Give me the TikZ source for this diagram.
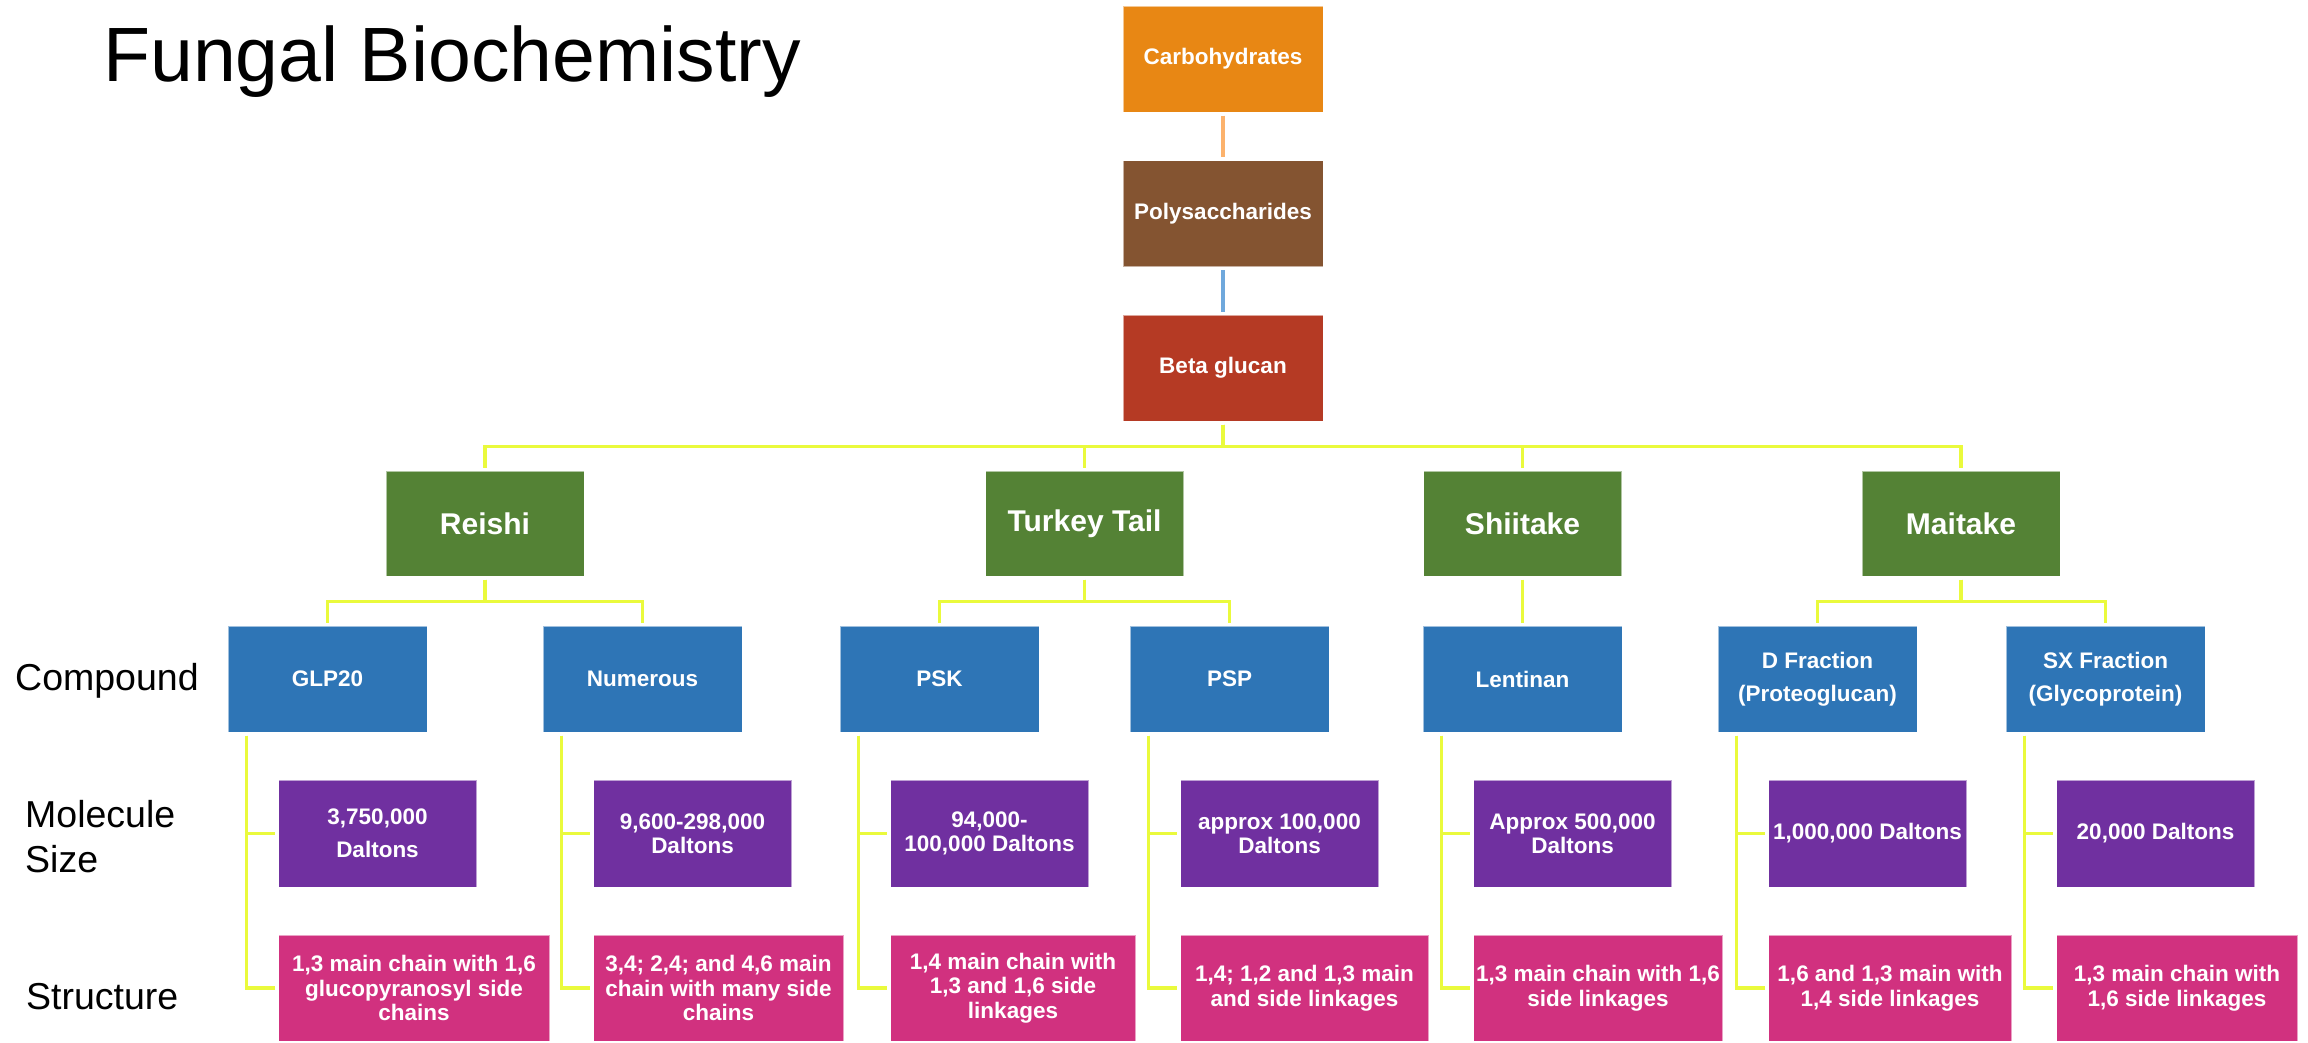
\documentclass[tikz,border=0pt]{standalone}
\usepackage{fontspec}
\setmainfont{Liberation Sans}

\definecolor{cOrange}{RGB}{232,135,20}
\definecolor{cBrown}{RGB}{132,84,49}
\definecolor{cRed}{RGB}{181,58,36}
\definecolor{cGreen}{RGB}{84,130,53}
\definecolor{cBlue}{RGB}{46,117,182}
\definecolor{cPurple}{RGB}{112,48,160}
\definecolor{cPink}{RGB}{209,49,127}
\definecolor{cYellow}{RGB}{234,250,60}
\definecolor{cLineOrange}{RGB}{252,178,108}
\definecolor{cLineBlue}{RGB}{111,168,220}

\begin{document}
\begin{tikzpicture}[x=1pt,y=-1pt,
  box/.style={draw=white, draw opacity=0.55, line width=1pt, inner sep=0pt,
    text=white, align=center, font=\bfseries\fontsize{22.5}{24.5}\selectfont},
  topbox/.style={box, minimum width=200pt, minimum height=106pt},
  grn/.style={box, fill=cGreen, minimum width=198pt, minimum height=105pt,
    font=\bfseries\fontsize{30}{33}\selectfont},
  cmp/.style={box, fill=cBlue, minimum width=199pt, minimum height=106pt,
    font=\bfseries\fontsize{22.5}{33}\selectfont},
  msz/.style={box, fill=cPurple, minimum width=198pt, minimum height=107pt, anchor=west},
  stc/.style={box, fill=cPink, minimum height=106pt, anchor=west},
  conn/.style={line width=3.2pt, shorten <=3pt, shorten >=3pt},
  yl/.style={conn, draw=cYellow},
  lbl/.style={inner sep=0pt, text=black},
]
\fill[white] (0,0) rectangle (2308,1042);
\useasboundingbox (0,0) rectangle (2308,1042);

% title and row labels
\node[lbl, anchor=base west, font=\fontsize{77}{80}\selectfont] (title) at (103,81) {Fungal Biochemistry};
\node[lbl, anchor=base west, font=\fontsize{37.5}{45}\selectfont] (rcomp) at (15,690) {Compound};
\node[lbl, anchor=west, align=left, font=\fontsize{37.5}{45}\selectfont] (rsize) at (25,837) {Molecule\\Size};
\node[lbl, anchor=base west, font=\fontsize{37.5}{45}\selectfont] (rstruct) at (26,1009) {Structure};

% main chain
\node[topbox, fill=cOrange] (carb) at (1223,59) {Carbohydrates};
\node[topbox, fill=cBrown] (poly) at (1223,213.5) {Polysaccharides};
\node[topbox, fill=cRed] (beta) at (1223,368) {Beta glucan};

% mushrooms
\node[grn] (reishi) at (485,523.5) {Reishi};
\node[grn] (turkey) at (1084.5,523.5) {Turkey Tail};
\node[grn] (shii) at (1522.5,523.5) {Shiitake};
\node[grn] (mai) at (1961,523.5) {Maitake};

% compounds
\node[cmp] (glp) at (327.5,679) {GLP20};
\node[cmp] (num) at (642.5,679) {Numerous};
\node[cmp] (psk) at (939.5,679) {PSK};
\node[cmp] (psp) at (1229.5,679) {PSP};
\node[cmp] (lent) at (1522.5,679) {Lentinan};
\node[cmp] (dfr) at (1817.5,679) {D Fraction\\(Proteoglucan)};
\node[cmp] (sxf) at (2105.5,679) {SX Fraction\\(Glycoprotein)};

% molecule sizes
\node[msz, font=\bfseries\fontsize{22.5}{33}\selectfont] (glpsz) at (278,833.5) {3,750,000\\Daltons};
\node[msz] (numsz) at (593,833.5) {9,600-298,000\\Daltons};
\node[msz] (psksz) at (890,833.5) {94,000-\\100,000 Daltons};
\node[msz] (pspsz) at (1180,833.5) {approx 100,000\\Daltons};
\node[msz] (lentsz) at (1473,833.5) {Approx 500,000\\Daltons};
\node[msz] (dfrsz) at (1768,833.5) {1,000,000 Daltons};
\node[msz] (sxfsz) at (2056,833.5) {20,000 Daltons};

% structures
\node[stc, minimum width=271pt] (glpst) at (278,988) {1,3 main chain with 1,6\\glucopyranosyl side\\chains};
\node[stc, minimum width=250pt] (numst) at (593,988) {3,4; 2,4; and 4,6 main\\chain with many side\\chains};
\node[stc, minimum width=245pt] (pskst) at (890,988) {1,4 main chain with\\1,3 and 1,6 side\\linkages};
\node[stc, minimum width=248pt] (pspst) at (1180,988) {1,4; 1,2 and 1,3 main\\and side linkages};
\node[stc, minimum width=249pt] (lentst) at (1473,988) {1,3 main chain with 1,6\\side linkages};
\node[stc, minimum width=243pt] (dfrst) at (1768,988) {1,6 and 1,3 main with\\1,4 side linkages};
\node[stc, minimum width=241pt] (sxfst) at (2056,988) {1,3 main chain with\\1,6 side linkages};

% connectors of the main chain
\draw[conn, draw=cLineOrange] (carb.south) -- (poly.north);
\draw[conn, draw=cLineBlue] (poly.south) -- (beta.north);

% beta glucan to mushrooms
\foreach \m in {reishi,turkey,shii,mai}
  \draw[yl] (beta.south) -- ++(0,25) -| (\m.north);

% mushrooms to compounds
\draw[yl] (reishi.south) -- ++(0,25) -| (glp.north);
\draw[yl] (reishi.south) -- ++(0,25) -| (num.north);
\draw[yl] (turkey.south) -- ++(0,25) -| (psk.north);
\draw[yl] (turkey.south) -- ++(0,25) -| (psp.north);
\draw[yl] (shii.south) -- (lent.north);
\draw[yl] (mai.south) -- ++(0,25) -| (dfr.north);
\draw[yl] (mai.south) -- ++(0,25) -| (sxf.north);

% compounds to their size and structure
\foreach \c in {glp,num,psk,psp,lent,dfr,sxf}{
  \draw[yl] ([xshift=19pt]\c.south west) |- (\c sz.west);
  \draw[yl] ([xshift=19pt]\c.south west) |- (\c st.west);
}
\end{tikzpicture}
\end{document}
